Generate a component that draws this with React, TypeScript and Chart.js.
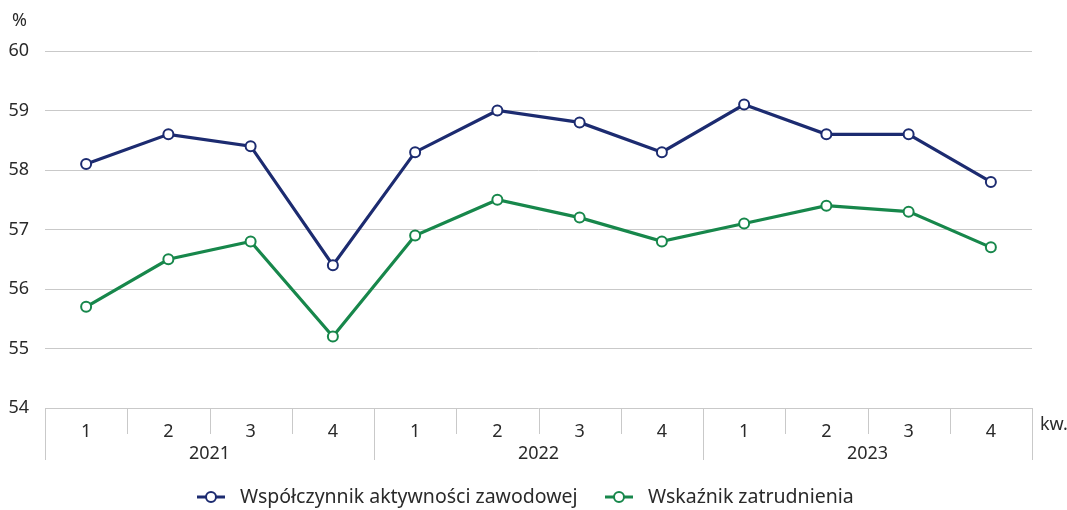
import React, { useEffect, useRef } from "react";
import { Chart, registerables } from "chart.js";

Chart.register(...registerables);

const quarters = ["1", "2", "3", "4", "1", "2", "3", "4", "1", "2", "3", "4"];
const years = ["2021", "2022", "2023"];
const activityRate = [58.1, 58.6, 58.4, 56.4, 58.3, 59.0, 58.8, 58.3, 59.1, 58.6, 58.6, 57.8];
const employmentRate = [55.7, 56.5, 56.8, 55.2, 56.9, 57.5, 57.2, 56.8, 57.1, 57.4, 57.3, 56.7];
const seriesNames = ["Współczynnik aktywności zawodowej", "Wskaźnik zatrudnienia"];
const seriesColors = ["#1c2b70", "#17874b"];
const yMin = 54;
const yMax = 60;
const yUnit = "%";
const xUnit = "kw.";

const FONT = "'Noto Sans', sans-serif";
const TEXT = "#2a2a2a";
const GRID = "#c9c9c9";

const overlay = {
  id: "overlay",
  afterDraw(chart: any) {
    const { ctx, chartArea, scales } = chart;
    const x = scales.x;
    const n = quarters.length;
    ctx.save();
    ctx.strokeStyle = GRID;
    ctx.lineWidth = 1;
    for (let i = 0; i <= n; i++) {
      let px: number;
      if (i === 0) px = chartArea.left;
      else if (i === n) px = chartArea.right;
      else px = (x.getPixelForValue(i - 1) + x.getPixelForValue(i)) / 2;
      px = Math.round(px) + 0.5;
      const len = i % 4 === 0 ? 52 : 26;
      ctx.beginPath();
      ctx.moveTo(px, chartArea.bottom);
      ctx.lineTo(px, chartArea.bottom + len);
      ctx.stroke();
    }
    ctx.fillStyle = TEXT;
    ctx.font = `18px ${FONT}`;
    ctx.textAlign = "center";
    ctx.textBaseline = "middle";
    years.forEach((y, k) => {
      const cx = (x.getPixelForValue(4 * k) + x.getPixelForValue(4 * k + 3)) / 2;
      ctx.fillText(y, cx, chartArea.bottom + 46);
    });
    ctx.textAlign = "left";
    ctx.fillText(xUnit, chartArea.right + 8, chartArea.bottom + 17);
    ctx.fillText(yUnit, 12, 21);

    // legend
    const ly = 497;
    const items = [
      { x: 197, label: seriesNames[0], color: seriesColors[0] },
      { x: 605, label: seriesNames[1], color: seriesColors[1] },
    ];
    items.forEach((it) => {
      ctx.strokeStyle = it.color;
      ctx.lineWidth = 3;
      ctx.beginPath();
      ctx.moveTo(it.x, ly);
      ctx.lineTo(it.x + 28, ly);
      ctx.stroke();
      ctx.beginPath();
      ctx.fillStyle = "#ffffff";
      ctx.lineWidth = 2;
      ctx.arc(it.x + 14, ly, 5, 0, Math.PI * 2);
      ctx.fill();
      ctx.stroke();
      ctx.fillStyle = TEXT;
      ctx.font = `19.5px ${FONT}`;
      ctx.textAlign = "left";
      ctx.fillText(it.label, it.x + 43, ly);
    });
    ctx.restore();
  },
};

export default function App() {
  const ref = useRef<HTMLCanvasElement | null>(null);
  useEffect(() => {
    document.body.style.margin = "0";
    const canvas = ref.current;
    if (!canvas) return;
    const mk = (data: number[], color: string, label: string) => ({
      label,
      data,
      borderColor: color,
      backgroundColor: "#ffffff",
      borderWidth: 3.2,
      pointRadius: 5,
      pointBorderWidth: 2,
      pointBackgroundColor: "#ffffff",
      pointBorderColor: color,
      tension: 0,
    });
    const chart = new Chart(canvas, {
      type: "line",
      data: {
        labels: quarters,
        datasets: [
          mk(activityRate, seriesColors[0], seriesNames[0]),
          mk(employmentRate, seriesColors[1], seriesNames[1]),
        ],
      },
      options: {
        animation: false,
        responsive: false,
        maintainAspectRatio: false,
        layout: { padding: { top: 51, right: 35, left: 0, bottom: 0 } },
        plugins: {
          legend: { display: false },
          tooltip: { enabled: false },
        },
        scales: {
          x: {
            type: "category",
            offset: true,
            grid: { display: false },
            border: { display: false },
            ticks: {
              color: TEXT,
              font: { family: FONT, size: 18 },
              padding: 5,
              maxRotation: 0,
            },
            afterFit: (s: any) => {
              s.height = 102;
            },
          },
          y: {
            min: yMin,
            max: yMax,
            grid: { color: GRID, lineWidth: 1, drawTicks: false },
            border: { display: false },
            ticks: {
              stepSize: 1,
              color: TEXT,
              font: { family: FONT, size: 18 },
              padding: 16,
            },
            afterFit: (s: any) => {
              s.width = 45;
            },
          },
        },
      },
      plugins: [overlay],
    });
    return () => chart.destroy();
  }, []);
  return (
    <div style={{ width: 1067, height: 510 }}>
      <canvas ref={ref} width={1067} height={510} style={{ display: "block" }} />
    </div>
  );
}
